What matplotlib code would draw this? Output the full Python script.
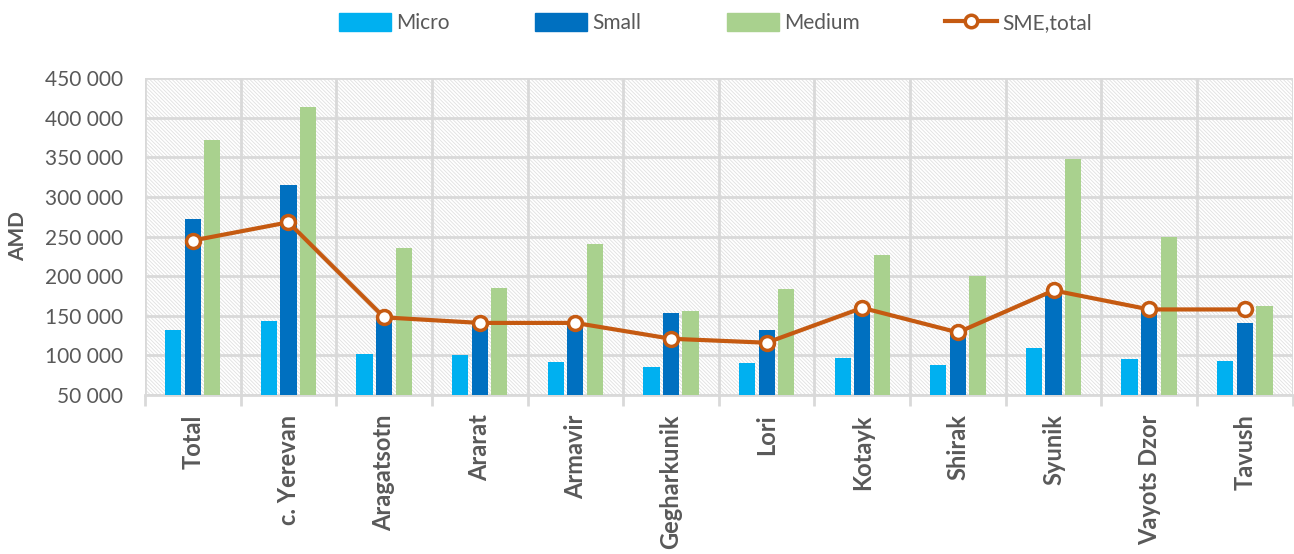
import matplotlib
matplotlib.use("Agg")

import numpy as np
import matplotlib.pyplot as plt
from matplotlib.patches import Rectangle
from matplotlib.lines import Line2D
from matplotlib.ticker import FuncFormatter

plt.rcParams['font.family'] = ['Lato', 'DejaVu Sans']
plt.rcParams['hatch.linewidth'] = 0.6

regions = ["Total", "c. Yerevan", "Aragatsotn", "Ararat", "Armavir", "Gegharkunik",
           "Lori", "Kotayk", "Shirak", "Syunik", "Vayots Dzor", "Tavush"]
micro = [132000, 143000, 102000, 100000, 92000, 85000, 90000, 97000, 88000, 109000, 95000, 93000]
small = [272000, 315000, 146000, 138000, 139000, 153000, 132000, 155000, 128000, 180000, 157000, 141000]
medium = [372000, 413000, 235000, 185000, 240000, 156000, 184000, 227000, 200000, 348000, 249000, 162000]
sme_total = [245000, 268000, 148000, 141000, 141000, 121000, 116000, 160000, 129000, 182000, 158000, 158000]

c_micro = "#00B0F0"
c_small = "#0070C0"
c_medium = "#A9D18E"
c_line = "#C55A11"
grid_c = "#D9D9D9"
text_c = "#595959"

fig = plt.figure(figsize=(12.94, 5.54), dpi=100)
ax = fig.add_axes([0.112, 0.287, 0.887, 0.572])

x = np.arange(len(regions))
w = 0.17
off = 0.205

# hatched plot background
bg = Rectangle((0, 0), 1, 1, transform=ax.transAxes, facecolor="white",
               edgecolor="#E0E0E0", linewidth=0, hatch="\\" * 9, zorder=0)
ax.add_patch(bg)

ax.bar(x - off, micro, w, color=c_micro, zorder=3, label="Micro")
ax.bar(x, small, w, color=c_small, zorder=3, label="Small")
ax.bar(x + off, medium, w, color=c_medium, zorder=3, label="Medium")
ax.plot(x, sme_total, color=c_line, lw=3, marker="o", ms=10, mfc="white",
        mec=c_line, mew=2.5, zorder=4, label="SME,total")

ax.set_xlim(-0.5, len(regions) - 0.5)
ax.set_ylim(50000, 450000)
ax.set_yticks(np.arange(50000, 450001, 50000))
ax.yaxis.set_major_formatter(FuncFormatter(lambda v, p: f"{int(v):,}".replace(",", " ")))
ax.set_xticks(x)
ax.set_xticklabels(regions, rotation=90, fontsize=17, fontweight="bold", color=text_c)
ax.set_xticks(np.arange(-0.5, len(regions), 1), minor=True)
ax.tick_params(axis="x", which="major", length=0, pad=14)
ax.tick_params(axis="x", which="minor", length=8, color=grid_c, width=2)
ax.tick_params(axis="y", length=0, labelsize=15, labelcolor=text_c, pad=16)

ax.grid(axis="y", color=grid_c, lw=2, zorder=1)
ax.grid(axis="x", which="minor", color=grid_c, lw=2, zorder=1)
ax.set_axisbelow(True)
for s in ["top", "right", "left"]:
    ax.spines[s].set_visible(False)
ax.spines["bottom"].set_color(grid_c)
ax.spines["bottom"].set_linewidth(2)

ax.set_ylabel("AMD", fontsize=15, fontweight="bold", color=text_c, labelpad=12)

handles = [Rectangle((0, 0), 1, 1, color=c_micro), Rectangle((0, 0), 1, 1, color=c_small),
           Rectangle((0, 0), 1, 1, color=c_medium),
           Line2D([], [], color=c_line, lw=3, marker="o", ms=9, mfc="white", mec=c_line, mew=2.5)]
leg = fig.legend(handles, ["Micro", "Small", "Medium", "SME,total"], loc="center",
                 bbox_to_anchor=(0.553, 0.958), ncol=4, frameon=False, fontsize=15,
                 handlelength=2.5, handleheight=0.9, columnspacing=4.1, handletextpad=0.25)
for t in leg.get_texts():
    t.set_color(text_c)

fig.savefig("out.png", dpi=100)
